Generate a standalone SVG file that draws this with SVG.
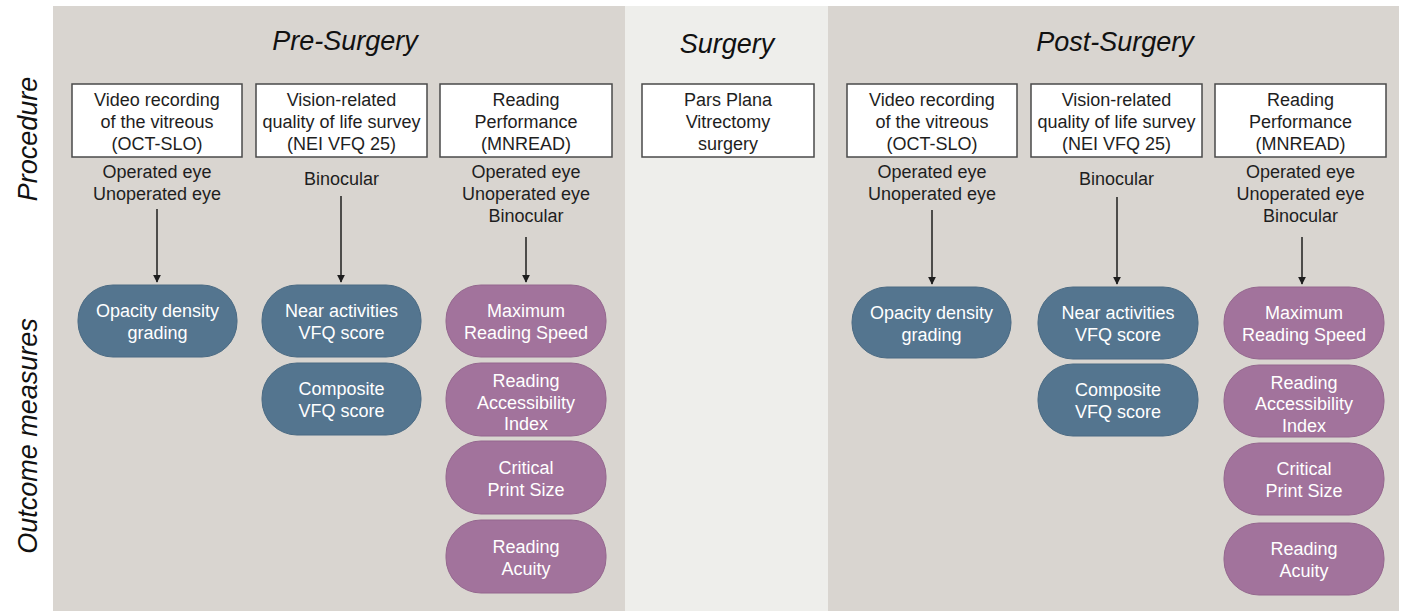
<svg xmlns="http://www.w3.org/2000/svg" width="1404" height="611" viewBox="0 0 1404 611">
<defs>
<style>
.panel{fill:#d9d5d0}
.mid{fill:#eeeeeb}
.box{fill:#ffffff;stroke:#4a4a4a;stroke-width:1.5}
.t{font-family:"Liberation Sans",Arial,sans-serif;font-size:18px;fill:#1e1e1e;text-anchor:middle}
.w{font-family:"Liberation Sans",Arial,sans-serif;font-size:18px;fill:#ffffff;text-anchor:middle}
.h{font-family:"Liberation Sans",Arial,sans-serif;font-size:27px;font-style:italic;fill:#111111;text-anchor:middle}
.blue{fill:#54758f;stroke:#4a6a83;stroke-width:1}
.pink{fill:#a2739c;stroke:#94678e;stroke-width:1}
.arr{stroke:#1e1e1e;stroke-width:1.5;fill:none;marker-end:url(#ah)}
</style>
<marker id="ah" viewBox="0 0 10 10" refX="9" refY="5" markerWidth="8" markerHeight="8" markerUnits="userSpaceOnUse" orient="auto">
<path d="M0,0 L10,5 L0,10 z" fill="#1e1e1e"/>
</marker>
</defs>
<rect width="1404" height="611" fill="#ffffff"/>
<rect class="panel" x="53" y="6" width="572" height="605"/>
<rect class="mid" x="625" y="6" width="203" height="605"/>
<rect class="panel" x="828" y="6" width="571" height="605"/>

<text class="h" transform="translate(37,139) rotate(-90)">Procedure</text>
<text class="h" transform="translate(37,436) rotate(-90)">Outcome measures</text>
<text class="h" x="345" y="50">Pre-Surgery</text>
<text class="h" x="727" y="53">Surgery</text>
<text class="h" x="1115" y="51">Post-Surgery</text>

<g id="pre-video">
<rect class="box" x="72" y="84" width="170" height="73"/>
<text class="t" x="157" y="106">Video recording</text>
<text class="t" x="157" y="128">of the vitreous</text>
<text class="t" x="157" y="150">(OCT-SLO)</text>
<text class="t" x="157" y="178">Operated eye</text>
<text class="t" x="157" y="200">Unoperated eye</text>
</g>
<g id="pre-vfq">
<rect class="box" x="256" y="84" width="171" height="73"/>
<text class="t" x="341.5" y="106">Vision-related</text>
<text class="t" x="341.5" y="128">quality of life survey</text>
<text class="t" x="341.5" y="150">(NEI VFQ 25)</text>
<text class="t" x="341.5" y="185">Binocular</text>
</g>
<g id="pre-mnread">
<rect class="box" x="440" y="84" width="172" height="73"/>
<text class="t" x="526" y="106">Reading</text>
<text class="t" x="526" y="128">Performance</text>
<text class="t" x="526" y="150">(MNREAD)</text>
<text class="t" x="526" y="178">Operated eye</text>
<text class="t" x="526" y="200">Unoperated eye</text>
<text class="t" x="526" y="222">Binocular</text>
</g>
<g id="surgery">
<rect class="box" x="642" y="84" width="172" height="73"/>
<text class="t" x="728" y="106">Pars Plana</text>
<text class="t" x="728" y="128">Vitrectomy</text>
<text class="t" x="728" y="150">surgery</text>
</g>
<g id="post-video">
<rect class="box" x="847" y="84" width="170" height="73"/>
<text class="t" x="932" y="106">Video recording</text>
<text class="t" x="932" y="128">of the vitreous</text>
<text class="t" x="932" y="150">(OCT-SLO)</text>
<text class="t" x="932" y="178">Operated eye</text>
<text class="t" x="932" y="200">Unoperated eye</text>
</g>
<g id="post-vfq">
<rect class="box" x="1031" y="84" width="171" height="73"/>
<text class="t" x="1116.5" y="106">Vision-related</text>
<text class="t" x="1116.5" y="128">quality of life survey</text>
<text class="t" x="1116.5" y="150">(NEI VFQ 25)</text>
<text class="t" x="1116.5" y="185">Binocular</text>
</g>
<g id="post-mnread">
<rect class="box" x="1215" y="84" width="171" height="73"/>
<text class="t" x="1300.5" y="106">Reading</text>
<text class="t" x="1300.5" y="128">Performance</text>
<text class="t" x="1300.5" y="150">(MNREAD)</text>
<text class="t" x="1300.5" y="178">Operated eye</text>
<text class="t" x="1300.5" y="200">Unoperated eye</text>
<text class="t" x="1300.5" y="222">Binocular</text>
</g>

<g id="connectors">
<line class="arr" x1="157" y1="209" x2="157" y2="282"/>
<line class="arr" x1="341" y1="196" x2="341" y2="282"/>
<line class="arr" x1="526" y1="237" x2="526" y2="282"/>
<line class="arr" x1="932" y1="210" x2="932" y2="284"/>
<line class="arr" x1="1117" y1="197" x2="1117" y2="284"/>
<line class="arr" x1="1302" y1="237" x2="1302" y2="284"/>
</g>

<g id="pre-opacity">
<rect class="blue" x="78" y="285" width="159" height="72" rx="35"/>
<text class="w" x="157.5" y="317">Opacity density</text>
<text class="w" x="157.5" y="339">grading</text>
</g>
<g id="pre-near">
<rect class="blue" x="262" y="285" width="159" height="72" rx="35"/>
<text class="w" x="341.5" y="317">Near activities</text>
<text class="w" x="341.5" y="339">VFQ score</text>
</g>
<g id="pre-composite">
<rect class="blue" x="262" y="363" width="159" height="72" rx="35"/>
<text class="w" x="341.5" y="395">Composite</text>
<text class="w" x="341.5" y="417">VFQ score</text>
</g>
<g id="pre-mrs">
<rect class="pink" x="446" y="285" width="160" height="72" rx="35"/>
<text class="w" x="526" y="317">Maximum</text>
<text class="w" x="526" y="339">Reading Speed</text>
</g>
<g id="pre-rai">
<rect class="pink" x="446" y="363" width="160" height="73" rx="35"/>
<text class="w" x="526" y="387">Reading</text>
<text class="w" x="526" y="408.5">Accessibility</text>
<text class="w" x="526" y="430">Index</text>
</g>
<g id="pre-cps">
<rect class="pink" x="446" y="441" width="160" height="73" rx="35"/>
<text class="w" x="526" y="473.5">Critical</text>
<text class="w" x="526" y="495.5">Print Size</text>
</g>
<g id="pre-ra">
<rect class="pink" x="446" y="520" width="160" height="73" rx="35"/>
<text class="w" x="526" y="552.5">Reading</text>
<text class="w" x="526" y="574.5">Acuity</text>
</g>

<g id="post-opacity">
<rect class="blue" x="852" y="287" width="159" height="71" rx="35"/>
<text class="w" x="931.5" y="318.5">Opacity density</text>
<text class="w" x="931.5" y="340.5">grading</text>
</g>
<g id="post-near">
<rect class="blue" x="1038" y="287" width="160" height="72" rx="35"/>
<text class="w" x="1118" y="319">Near activities</text>
<text class="w" x="1118" y="341">VFQ score</text>
</g>
<g id="post-composite">
<rect class="blue" x="1038" y="364" width="160" height="72" rx="35"/>
<text class="w" x="1118" y="396">Composite</text>
<text class="w" x="1118" y="418">VFQ score</text>
</g>
<g id="post-mrs">
<rect class="pink" x="1224" y="287" width="160" height="72" rx="35"/>
<text class="w" x="1304" y="319">Maximum</text>
<text class="w" x="1304" y="341">Reading Speed</text>
</g>
<g id="post-rai">
<rect class="pink" x="1224" y="365" width="160" height="72" rx="35"/>
<text class="w" x="1304" y="388.5">Reading</text>
<text class="w" x="1304" y="410">Accessibility</text>
<text class="w" x="1304" y="431.5">Index</text>
</g>
<g id="post-cps">
<rect class="pink" x="1224" y="443" width="160" height="72" rx="35"/>
<text class="w" x="1304" y="475">Critical</text>
<text class="w" x="1304" y="497">Print Size</text>
</g>
<g id="post-ra">
<rect class="pink" x="1224" y="523" width="160" height="72" rx="35"/>
<text class="w" x="1304" y="555">Reading</text>
<text class="w" x="1304" y="577">Acuity</text>
</g>
</svg>
